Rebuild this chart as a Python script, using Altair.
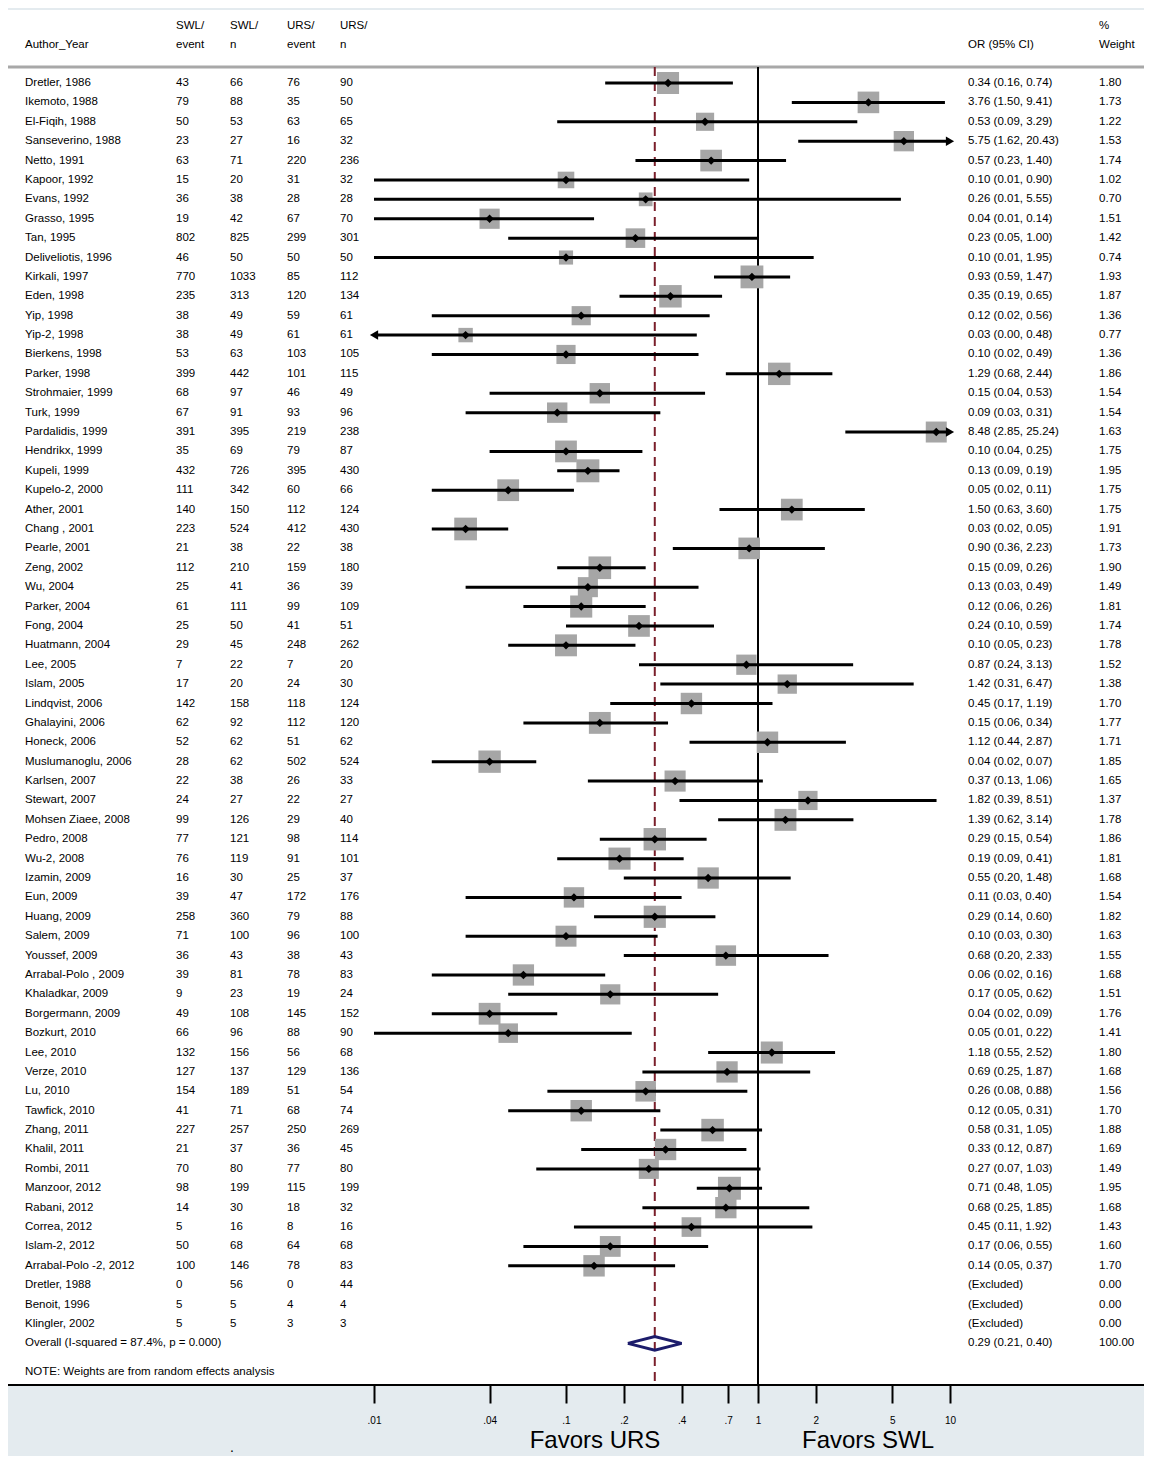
import pandas as pd
import altair as alt

names = ["Dretler, 1986", "Ikemoto, 1988", "El-Fiqih, 1988", "Sanseverino, 1988", "Netto, 1991",
         "Kapoor, 1992", "Evans, 1992", "Grasso, 1995", "Tan, 1995", "Deliveliotis, 1996",
         "Kirkali, 1997", "Eden, 1998", "Yip, 1998", "Yip-2, 1998", "Bierkens, 1998",
         "Parker, 1998", "Strohmaier, 1999", "Turk, 1999", "Pardalidis, 1999", "Hendrikx, 1999",
         "Kupeli, 1999", "Kupelo-2, 2000", "Ather, 2001", "Chang , 2001", "Pearle, 2001",
         "Zeng, 2002", "Wu, 2004", "Parker, 2004", "Fong, 2004", "Huatmann, 2004",
         "Lee, 2005", "Islam, 2005", "Lindqvist, 2006", "Ghalayini, 2006", "Honeck, 2006",
         "Muslumanoglu, 2006", "Karlsen, 2007", "Stewart, 2007", "Mohsen Ziaee, 2008", "Pedro, 2008",
         "Wu-2, 2008", "Izamin, 2009", "Eun, 2009", "Huang, 2009", "Salem, 2009",
         "Youssef, 2009", "Arrabal-Polo , 2009", "Khaladkar, 2009", "Borgermann, 2009", "Bozkurt, 2010",
         "Lee, 2010", "Verze, 2010", "Lu, 2010", "Tawfick, 2010", "Zhang, 2011",
         "Khalil, 2011", "Rombi, 2011", "Manzoor, 2012", "Rabani, 2012", "Correa, 2012",
         "Islam-2, 2012", "Arrabal-Polo -2, 2012", "Dretler, 1988", "Benoit, 1996", "Klingler, 2002"]
swl_event = [43, 79, 50, 23, 63, 15, 36, 19, 802, 46, 770, 235, 38, 38, 53, 399, 68, 67, 391, 35,
             432, 111, 140, 223, 21, 112, 25, 61, 25, 29, 7, 17, 142, 62, 52, 28, 22, 24, 99, 77,
             76, 16, 39, 258, 71, 36, 39, 9, 49, 66, 132, 127, 154, 41, 227, 21, 70, 98, 14, 5,
             50, 100, 0, 5, 5]
swl_n = [66, 88, 53, 27, 71, 20, 38, 42, 825, 50, 1033, 313, 49, 49, 63, 442, 97, 91, 395, 69,
         726, 342, 150, 524, 38, 210, 41, 111, 50, 45, 22, 20, 158, 92, 62, 62, 38, 27, 126, 121,
         119, 30, 47, 360, 100, 43, 81, 23, 108, 96, 156, 137, 189, 71, 257, 37, 80, 199, 30, 16,
         68, 146, 56, 5, 5]
urs_event = [76, 35, 63, 16, 220, 31, 28, 67, 299, 50, 85, 120, 59, 61, 103, 101, 46, 93, 219, 79,
             395, 60, 112, 412, 22, 159, 36, 99, 41, 248, 7, 24, 118, 112, 51, 502, 26, 22, 29, 98,
             91, 25, 172, 79, 96, 38, 78, 19, 145, 88, 56, 129, 51, 68, 250, 36, 77, 115, 18, 8,
             64, 78, 0, 4, 3]
urs_n = [90, 50, 65, 32, 236, 32, 28, 70, 301, 50, 112, 134, 61, 61, 105, 115, 49, 96, 238, 87,
         430, 66, 124, 430, 38, 180, 39, 109, 51, 262, 20, 30, 124, 120, 62, 524, 33, 27, 40, 114,
         101, 37, 176, 88, 100, 43, 83, 24, 152, 90, 68, 136, 54, 74, 269, 45, 80, 199, 32, 16,
         68, 83, 44, 4, 3]
odds = [0.34, 3.76, 0.53, 5.75, 0.57, 0.10, 0.26, 0.04, 0.23, 0.10, 0.93, 0.35, 0.12, 0.03, 0.10,
        1.29, 0.15, 0.09, 8.48, 0.10, 0.13, 0.05, 1.50, 0.03, 0.90, 0.15, 0.13, 0.12, 0.24, 0.10,
        0.87, 1.42, 0.45, 0.15, 1.12, 0.04, 0.37, 1.82, 1.39, 0.29, 0.19, 0.55, 0.11, 0.29, 0.10,
        0.68, 0.06, 0.17, 0.04, 0.05, 1.18, 0.69, 0.26, 0.12, 0.58, 0.33, 0.27, 0.71, 0.68, 0.45,
        0.17, 0.14]
lower = [0.16, 1.50, 0.09, 1.62, 0.23, 0.01, 0.01, 0.01, 0.05, 0.01, 0.59, 0.19, 0.02, 0.003, 0.02,
         0.68, 0.04, 0.03, 2.85, 0.04, 0.09, 0.02, 0.63, 0.02, 0.36, 0.09, 0.03, 0.06, 0.10, 0.05,
         0.24, 0.31, 0.17, 0.06, 0.44, 0.02, 0.13, 0.39, 0.62, 0.15, 0.09, 0.20, 0.03, 0.14, 0.03,
         0.20, 0.02, 0.05, 0.02, 0.01, 0.55, 0.25, 0.08, 0.05, 0.31, 0.12, 0.07, 0.48, 0.25, 0.11,
         0.06, 0.05]
upper = [0.74, 9.41, 3.29, 20.43, 1.40, 0.90, 5.55, 0.14, 1.00, 1.95, 1.47, 0.65, 0.56, 0.48, 0.49,
         2.44, 0.53, 0.31, 25.24, 0.25, 0.19, 0.11, 3.60, 0.05, 2.23, 0.26, 0.49, 0.26, 0.59, 0.23,
         3.13, 6.47, 1.19, 0.34, 2.87, 0.07, 1.06, 8.51, 3.14, 0.54, 0.41, 1.48, 0.40, 0.60, 0.30,
         2.33, 0.16, 0.62, 0.09, 0.22, 2.52, 1.87, 0.88, 0.31, 1.05, 0.87, 1.03, 1.05, 1.85, 1.92,
         0.55, 0.37]
lower_txt = ["0.16", "1.50", "0.09", "1.62", "0.23", "0.01", "0.01", "0.01", "0.05", "0.01", "0.59",
             "0.19", "0.02", "0.00", "0.02", "0.68", "0.04", "0.03", "2.85", "0.04", "0.09", "0.02",
             "0.63", "0.02", "0.36", "0.09", "0.03", "0.06", "0.10", "0.05", "0.24", "0.31", "0.17",
             "0.06", "0.44", "0.02", "0.13", "0.39", "0.62", "0.15", "0.09", "0.20", "0.03", "0.14",
             "0.03", "0.20", "0.02", "0.05", "0.02", "0.01", "0.55", "0.25", "0.08", "0.05", "0.31",
             "0.12", "0.07", "0.48", "0.25", "0.11", "0.06", "0.05"]
weights = [1.80, 1.73, 1.22, 1.53, 1.74, 1.02, 0.70, 1.51, 1.42, 0.74, 1.93, 1.87, 1.36, 0.77, 1.36,
           1.86, 1.54, 1.54, 1.63, 1.75, 1.95, 1.75, 1.75, 1.91, 1.73, 1.90, 1.49, 1.81, 1.74, 1.78,
           1.52, 1.38, 1.70, 1.77, 1.71, 1.85, 1.65, 1.37, 1.78, 1.86, 1.81, 1.68, 1.54, 1.82, 1.63,
           1.55, 1.68, 1.51, 1.76, 1.41, 1.80, 1.68, 1.56, 1.70, 1.88, 1.69, 1.49, 1.95, 1.68, 1.43,
           1.60, 1.70]
overall = [0.21, 0.29, 0.40]

FONT = "Liberation Sans"
FS = 11.5
LO, HI = 0.01, 10
n_est = len(odds)

rows = []
for i, name in enumerate(names):
    r = dict(row=i, name=name, se=str(swl_event[i]), sn=str(swl_n[i]),
             ue=str(urs_event[i]), un=str(urs_n[i]))
    if i < n_est:
        r.update(orv=odds[i], lo=max(lower[i], LO), hi=min(upper[i], HI), w=weights[i],
                 cut_lo=lower[i] < LO, cut_hi=upper[i] > HI,
                 ortxt=f"{odds[i]:.2f} ({lower_txt[i]}, {upper[i]:.2f})", wtxt=f"{weights[i]:.2f}")
    else:
        r.update(ortxt="(Excluded)", wtxt="0.00")
    rows.append(r)
rows.append(dict(row=65, name="Overall  (I-squared = 87.4%, p = 0.000)", se="", sn="", ue="", un="",
                 ortxt="0.29 (0.21, 0.40)", wtxt="100.00"))
rows.append(dict(row=66.5, name="NOTE: Weights are from random effects analysis", se="", sn="",
                 ue="", un="", ortxt="", wtxt=""))
df = pd.DataFrame(rows)
est = df[df["orv"].notna()].copy()
est["size"] = est["w"] * 270
one = pd.DataFrame({"k": [0]})

diamond = pd.DataFrame({"x": [overall[0], overall[1], overall[2], overall[1], overall[0]],
                        "row": [65, 64.65, 65, 65.35, 65], "o": [0, 1, 2, 3, 4]})

xs = alt.Scale(type="log", domain=[LO, HI], range=[366, 942])
ys = alt.Scale(domain=[0, 64], range=[73, 1314])
Y = alt.Y("row:Q", scale=ys, axis=None)

base = alt.Chart(df)
panel = alt.Chart(one).mark_rect(color="white").encode(
    x=alt.value(0), x2=alt.value(1136), y=alt.value(0), y2=alt.value(1375))
sep = alt.Chart(one).mark_rule(color="#a8a8a8", strokeWidth=3).encode(
    x=alt.value(0), x2=alt.value(1136), y=alt.value(57))
baseline = alt.Chart(one).mark_rule(color="black", strokeWidth=2).encode(
    x=alt.value(0), x2=alt.value(1136), y=alt.value(1375))

null_line = alt.Chart(one).mark_rule(color="black", strokeWidth=2).encode(
    x=alt.datum(1, scale=xs), y=alt.value(57), y2=alt.value(1375))
pooled = alt.Chart(one).mark_rule(color="#7a1f2b", strokeWidth=2, strokeDash=[9, 6]).encode(
    x=alt.datum(overall[1], scale=xs), y=alt.value(57), y2=alt.value(1375))

boxes = alt.Chart(est).mark_square(color="#a6a6a6", opacity=1).encode(
    x=alt.X("orv:Q", scale=xs), y=Y, size=alt.Size("size:Q", scale=None, legend=None))
ci = alt.Chart(est).mark_rule(color="black", strokeWidth=3).encode(
    x=alt.X("lo:Q", scale=xs), x2="hi:Q", y=Y)
pts = alt.Chart(est).mark_point(shape="diamond", filled=True, color="black", size=70, opacity=1).encode(
    x=alt.X("orv:Q", scale=xs), y=Y)
arr_r = alt.Chart(est[est["cut_hi"] == True]).mark_point(
    shape="triangle-right", filled=True, color="black", size=90, opacity=1).encode(
    x=alt.X("hi:Q", scale=xs), y=Y)
arr_l = alt.Chart(est[est["cut_lo"] == True]).mark_point(
    shape="triangle-left", filled=True, color="black", size=90, opacity=1).encode(
    x=alt.X("lo:Q", scale=xs), y=Y)
dia = alt.Chart(diamond).mark_line(color="#1c1c6b", strokeWidth=3).encode(
    x=alt.X("x:Q", scale=xs, axis=alt.Axis(
        values=[0.01, 0.04, 0.1, 0.2, 0.4, 0.7, 1, 2, 5, 10],
        labelExpr="datum.value < 1 ? slice(toString(datum.value), 1) : toString(datum.value)",
        domain=False, grid=False, tickColor="black", tickWidth=2, tickSize=18, labelFlush=False,
        labelFont=FONT, labelFontSize=10, labelColor="black", labelPadding=12, title=None)),
    y=Y, order="o:Q")


def col(field, xpos, align="left"):
    return base.mark_text(align=align, baseline="middle", font=FONT, fontSize=FS,
                          color="black").encode(x=alt.value(xpos), y=Y, text=f"{field}:N")


cols = [col("name", 17), col("se", 168), col("sn", 222), col("ue", 279), col("un", 332),
        col("ortxt", 960), col("wtxt", 1091)]


def head(txt, xpos, ypos, size=FS, align="left"):
    return alt.Chart(one).mark_text(align=align, baseline="middle", font=FONT, fontSize=size,
                                    color="black", text=txt).encode(x=alt.value(xpos), y=alt.value(ypos))


heads = [head("Author_Year", 17, 35), head("SWL/", 168, 16), head("event", 168, 35),
         head("SWL/", 222, 16), head("n", 222, 35), head("URS/", 279, 16), head("event", 279, 35),
         head("URS/", 332, 16), head("n", 332, 35), head("OR (95% CI)", 960, 35),
         head("%", 1091, 16), head("Weight", 1091, 35),
         head("Favors URS", 587, 1431, 24, "center"), head("Favors SWL", 860, 1431, 24, "center"),
         head(".", 222, 1438, 14)]

chart = alt.layer(panel, sep, null_line, pooled, boxes, ci, pts, arr_r, arr_l, dia, baseline,
                  *cols, *heads).properties(
    width=1136, height=1375, autosize=alt.AutoSizeParams(type="none"),
    padding={"left": 0, "top": 2, "right": 0, "bottom": 71},
    background="#e4ebef",
).configure_view(stroke=None)

chart.save("out.html", embed_options={"renderer": "svg", "actions": False})
